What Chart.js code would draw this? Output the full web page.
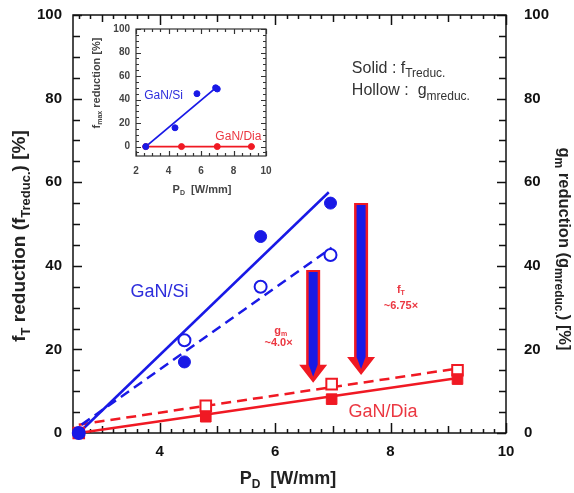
<!DOCTYPE html>
<html>
<head>
<meta charset="utf-8">
<script src="https://cdn.jsdelivr.net/npm/chart.js@4.4.1/dist/chart.umd.min.js"></script>
<style>
  body { margin: 0; background: #fff; }
  #wrap { position: relative; width: 574px; height: 493px; }
  #main { position: absolute; left: 0; top: 0; }
  #inset { position: absolute; left: 85px; top: 20px; }
</style>
</head>
<body>
<div id="wrap">
  <canvas id="main" width="574" height="493"></canvas>
  <canvas id="inset" width="190" height="180"></canvas>
</div>
<script>
// ---- data ----
var siX  = [2.6, 4.43, 5.75, 6.96];
var siFt = [0, 17, 47, 55];
var siGm = [0, 22.2, 35, 42.6];
var diaX  = [2.6, 4.8, 6.98, 9.16];
var diaFt = [0, 3.9, 8.1, 12.9];
var diaGm = [0, 6.5, 11.7, 15];

// fit lines (end points)
var siFtFitX = [2.6, 6.93];
var siFtFitY = [0, 57.6];
var siGmFitX = [2.65, 6.98];
var siGmFitY = [2, 44.3];
var diaFtFitX = [2.6, 9.2];
var diaFtFitY = [0, 13.2];
var diaGmFitX = [2.6, 9.2];
var diaGmFitY = [2, 15.5];

var xTicks = [4, 6, 8, 10];
var yTicks = [0, 20, 40, 60, 80, 100];

// inset: f_max reduction
var inSiX = [2.6, 4.4, 5.75, 6.9, 7.0];
var inSiY = [0, 16, 45, 50, 49];
var inDiaX = [2.6, 4.8, 7.0, 9.1];
var inDiaY = [0, 0, 0, 0];
var inSiFitX = [2.6, 7.0];
var inSiFitY = [0, 51];
var inDiaFitX = [2.4, 9.3];
var inDiaFitY = [0, 0];
var inXTicks = [2, 4, 6, 8, 10];
var inYTicks = [0, 20, 40, 60, 80, 100];

// ---- styles ----
var BLUE = 'rgb(25,25,230)';
var RED = 'rgb(240,25,35)';
var BLUE_TXT = 'rgb(45,45,220)';
var RED_TXT = 'rgb(235,55,65)';
var FONT = '"Liberation Sans", Arial, sans-serif';

function pts(xs, ys) {
    return xs.map(function (x, i) { return { x: x, y: ys[i] }; });
}

// no extra room for the end labels, the layout padding does it
function noPad(s) {
    s.paddingTop = 0; s.paddingBottom = 0;
    s.paddingLeft = 0; s.paddingRight = 0;
}

// text with subscripts, parts = [[text, isSub], ...]
function richText(c, parts, x, y, size, weight, color, align, subRatio) {
    var subSize = Math.round(size * (subRatio || 0.65));
    var w = 0;
    parts.forEach(function (p) {
        c.font = weight + ' ' + (p[1] ? subSize : size) + 'px ' + FONT;
        w += c.measureText(p[0]).width;
    });
    var sx = align === 'center' ? x - w / 2 : x;
    c.fillStyle = color;
    c.textBaseline = 'middle';
    c.textAlign = 'left';
    parts.forEach(function (p) {
        c.font = weight + ' ' + (p[1] ? subSize : size) + 'px ' + FONT;
        c.fillText(p[0], sx, y + (p[1] ? size * 0.32 : 0));
        sx += c.measureText(p[0]).width;
    });
}

function rotText(c, parts, x, y, angle, size, weight, color, subRatio) {
    c.save();
    c.translate(x, y);
    c.rotate(angle);
    richText(c, parts, 0, 0, size, weight, color, 'center', subRatio);
    c.restore();
}

// frame + inward tick marks on all four sides
function drawFrame(chart, o) {
    var a = chart.chartArea, c = chart.ctx;
    var xs = chart.scales.x, ys = chart.scales.y;
    c.save();
    c.strokeStyle = o.color;
    c.lineWidth = o.lw;
    c.strokeRect(a.left, a.top, a.right - a.left, a.bottom - a.top);
    c.beginPath();
    var k, v, px, len;
    for (k = Math.ceil(xs.min / o.xStep - 1e-6); k * o.xStep <= xs.max + 1e-6; k++) {
        v = k * o.xStep;
        px = Math.round(xs.getPixelForValue(v)) + 0.5;
        len = o.xLen(k);
        c.moveTo(px, a.bottom); c.lineTo(px, a.bottom - len);
        c.moveTo(px, a.top); c.lineTo(px, a.top + len);
    }
    for (k = Math.ceil(ys.min / o.yStep - 1e-6); k * o.yStep <= ys.max + 1e-6; k++) {
        v = k * o.yStep;
        px = Math.round(ys.getPixelForValue(v)) + 0.5;
        len = o.yLen(k);
        c.moveTo(a.left, px); c.lineTo(a.left + len, px);
        c.moveTo(a.right, px); c.lineTo(a.right - len, px);
    }
    c.stroke();
    c.restore();
}

function drawArrow(chart, ar) {
    var c = chart.ctx, xs = chart.scales.x, ys = chart.scales.y;
    var cx = xs.getPixelForValue(ar.x);
    var y0 = ys.getPixelForValue(ar.top);
    var y1 = ys.getPixelForValue(ar.tip);
    var hw = 7, hh = 18, headW = 14;
    c.save();
    c.fillStyle = RED;
    c.beginPath();
    c.moveTo(cx - hw, y0);
    c.lineTo(cx + hw, y0);
    c.lineTo(cx + hw, y1 - hh);
    c.lineTo(cx + headW, y1 - hh);
    c.lineTo(cx, y1);
    c.lineTo(cx - headW, y1 - hh);
    c.lineTo(cx - hw, y1 - hh);
    c.closePath();
    c.fill();
    c.fillStyle = BLUE;
    c.beginPath();
    c.moveTo(cx - 4.5, y0 + 2);
    c.lineTo(cx + 4.5, y0 + 2);
    c.lineTo(cx + 4.5, y1 - hh);
    c.lineTo(cx, y1 - 6);
    c.lineTo(cx - 4.5, y1 - hh);
    c.closePath();
    c.fill();
    c.restore();
}

var arrows = [
    { x: 6.66, top: 39, tip: 12 },
    { x: 7.49, top: 55, tip: 13.9 }
];

var mainDeco = {
    id: 'mainDeco',
    beforeDatasetsDraw: function (chart) {
        drawFrame(chart, {
            color: '#111', lw: 1.5, xStep: 0.2, yStep: 5,
            xLen: function (k) { return k % 10 === 0 ? 10 : (k % 5 === 0 ? 7 : 4); },
            yLen: function (k) { return k % 4 === 0 ? 9 : 7; }
        });
        arrows.forEach(function (ar) { drawArrow(chart, ar); });
    },
    afterDatasetsDraw: function (chart) {
        var c = chart.ctx, xs = chart.scales.x, ys = chart.scales.y;
        function X(v) { return xs.getPixelForValue(v); }
        function Y(v) { return ys.getPixelForValue(v); }
        c.save();
        // axis titles
        rotText(c, [['f', 0], ['T', 1], [' reduction (f', 0], ['Treduc.', 1], [') [%]', 0]],
            20, 236, -Math.PI / 2, 19, 'bold', '#222', 0.7);
        rotText(c, [['g', 0], ['m', 1], [' reduction (g', 0], ['mreduc.', 1], [') [%]', 0]],
            564, 249, Math.PI / 2, 16.5, 'bold', '#222', 0.7);
        richText(c, [['P', 0], ['D', 1], ['  [W/mm]', 0]], 288, 479, 18, 'bold', '#222', 'center');
        // series labels
        richText(c, [['GaN/Si', 0]], X(4.0), Y(33.7), 18, 'normal', BLUE_TXT, 'center');
        richText(c, [['GaN/Dia', 0]], X(7.87), Y(5.0), 18, 'normal', RED_TXT, 'center');
        // arrow notes
        richText(c, [['g', 0], ['m', 1]], X(6.1), Y(24.4), 11, 'bold', RED_TXT, 'center');
        richText(c, [['~4.0\u00d7', 0]], X(6.06), Y(21.5), 11, 'bold', RED_TXT, 'center');
        richText(c, [['f', 0], ['T', 1]], X(8.18), Y(34.3), 11, 'bold', RED_TXT, 'center');
        richText(c, [['~6.75\u00d7', 0]], X(8.18), Y(30.5), 11, 'bold', RED_TXT, 'center');
        // solid / hollow note
        richText(c, [['Solid : f', 0], ['Treduc.', 1]], X(7.33), Y(87.2), 16, 'normal', '#333', 'left', 0.72);
        richText(c, [['Hollow :  g', 0], ['mreduc.', 1]], X(7.33), Y(81.8), 16, 'normal', '#333', 'left', 0.72);
        c.restore();
    }
};

var tickFont = { family: FONT, size: 15, weight: 'bold' };

new Chart(document.getElementById('main'), {
    type: 'scatter',
    data: {
        datasets: [
            { data: pts(siX, siFt), pointStyle: 'circle', pointRadius: 6, backgroundColor: BLUE, borderColor: BLUE, borderWidth: 1, order: 1 },
            { data: pts(siX, siGm), pointStyle: 'circle', pointRadius: 6, backgroundColor: '#fff', borderColor: BLUE, borderWidth: 2, order: 1 },
            { data: pts(diaX, diaFt), pointStyle: 'rect', pointRadius: 7.5, backgroundColor: RED, borderColor: RED, borderWidth: 1, order: 1 },
            { data: pts(diaX, diaGm), pointStyle: 'rect', pointRadius: 7.5, backgroundColor: '#fff', borderColor: RED, borderWidth: 2, order: 1 },
            { data: pts(siFtFitX, siFtFitY), showLine: true, pointRadius: 0, borderColor: BLUE, borderWidth: 2.5, order: 2 },
            { data: pts(siGmFitX, siGmFitY), showLine: true, pointRadius: 0, borderColor: BLUE, borderWidth: 2.5, borderDash: [10, 6], order: 2 },
            { data: pts(diaFtFitX, diaFtFitY), showLine: true, pointRadius: 0, borderColor: RED, borderWidth: 2.5, order: 2 },
            { data: pts(diaGmFitX, diaGmFitY), showLine: true, pointRadius: 0, borderColor: RED, borderWidth: 2.5, borderDash: [10, 6], order: 2 }
        ]
    },
    options: {
        responsive: false,
        animation: false,
        clip: false,
        layout: { padding: { top: 15, left: 0, right: 0, bottom: 0 } },
        plugins: { legend: { display: false }, tooltip: { enabled: false } },
        scales: {
            x: {
                type: 'linear', min: 2.5, max: 10,
                grid: { display: false, drawTicks: false }, border: { display: false },
                ticks: { font: tickFont, color: '#111', padding: 10 },
                afterBuildTicks: function (s) { s.ticks = xTicks.map(function (v) { return { value: v }; }); },
                afterFit: function (s) { s.height = 60; noPad(s); }
            },
            y: {
                type: 'linear', position: 'left', min: 0, max: 100,
                grid: { display: false, drawTicks: false }, border: { display: false },
                ticks: { font: tickFont, color: '#111', padding: 11 },
                afterBuildTicks: function (s) { s.ticks = yTicks.map(function (v) { return { value: v }; }); },
                afterFit: function (s) { s.width = 73; noPad(s); }
            },
            y2: {
                type: 'linear', position: 'right', min: 0, max: 100,
                grid: { display: false, drawTicks: false }, border: { display: false },
                ticks: { font: tickFont, color: '#111', padding: 18 },
                afterBuildTicks: function (s) { s.ticks = yTicks.map(function (v) { return { value: v }; }); },
                afterFit: function (s) { s.width = 68; noPad(s); }
            }
        }
    },
    plugins: [mainDeco]
});

// ---- inset ----
var insetDeco = {
    id: 'insetDeco',
    beforeDatasetsDraw: function (chart) {
        drawFrame(chart, {
            color: '#333', lw: 1.2, xStep: 0.5, yStep: 5,
            xLen: function (k) { return k % 4 === 0 ? 5 : 3; },
            yLen: function (k) { return k % 4 === 0 ? 5 : 3; }
        });
    },
    afterDatasetsDraw: function (chart) {
        var c = chart.ctx, xs = chart.scales.x, ys = chart.scales.y;
        c.save();
        rotText(c, [['f', 0], ['max', 1], [' reduction [%]', 0]], 12, 63, -Math.PI / 2, 11, 'bold', '#444');
        richText(c, [['P', 0], ['D', 1], ['  [W/mm]', 0]], 117, 170, 11, 'bold', '#444', 'center');
        richText(c, [['GaN/Si', 0]], xs.getPixelForValue(3.7), ys.getPixelForValue(43), 12, 'normal', BLUE_TXT, 'center');
        richText(c, [['GaN/Dia', 0]], xs.getPixelForValue(8.3), ys.getPixelForValue(8), 12, 'normal', RED_TXT, 'center');
        c.restore();
    }
};

var inTickFont = { family: FONT, size: 10, weight: 'bold' };

new Chart(document.getElementById('inset'), {
    type: 'scatter',
    data: {
        datasets: [
            { data: pts(inSiX, inSiY), pointStyle: 'circle', pointRadius: 3, backgroundColor: BLUE, borderColor: BLUE, borderWidth: 1, order: 1 },
            { data: pts(inDiaX, inDiaY), pointStyle: 'circle', pointRadius: 3, backgroundColor: RED, borderColor: RED, borderWidth: 1, order: 1 },
            { data: pts(inSiFitX, inSiFitY), showLine: true, pointRadius: 0, borderColor: BLUE, borderWidth: 1.8, order: 2 },
            { data: pts(inDiaFitX, inDiaFitY), showLine: true, pointRadius: 0, borderColor: RED, borderWidth: 1.8, order: 2 }
        ]
    },
    options: {
        responsive: false,
        animation: false,
        clip: false,
        layout: { padding: { top: 9, left: 0, right: 9, bottom: 0 } },
        plugins: { legend: { display: false }, tooltip: { enabled: false } },
        scales: {
            x: {
                type: 'linear', min: 2, max: 10,
                grid: { display: false, drawTicks: false }, border: { display: false },
                ticks: { font: inTickFont, color: '#444', padding: 9 },
                afterBuildTicks: function (s) { s.ticks = inXTicks.map(function (v) { return { value: v }; }); },
                afterFit: function (s) { s.height = 44; noPad(s); }
            },
            y: {
                type: 'linear', min: -8, max: 100,
                grid: { display: false, drawTicks: false }, border: { display: false },
                ticks: { font: inTickFont, color: '#444', padding: 6 },
                afterBuildTicks: function (s) { s.ticks = inYTicks.map(function (v) { return { value: v }; }); },
                afterFit: function (s) { s.width = 51; noPad(s); }
            }
        }
    },
    plugins: [insetDeco]
});
</script>
</body>
</html>
